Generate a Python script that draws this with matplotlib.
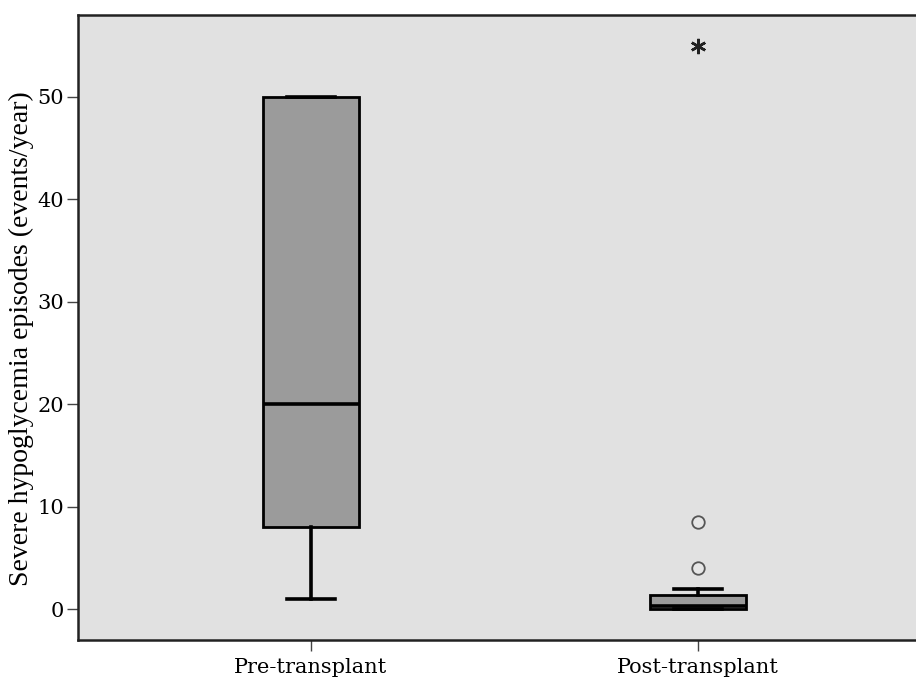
import numpy as np
import matplotlib

matplotlib.use("Agg")

import matplotlib.pyplot as plt  # noqa: E402

# box statistics (events/year)
groups = ["Pre-transplant", "Post-transplant"]
whislo = [1.0, 0.0]
q1 = [8.0, 0.0]
med = [20.0, 0.3]
q3 = [50.0, 1.4]
whishi = [50.0, 2.0]
outliers = [[], [4.0, 8.5]]
extremes = [[], [55.0]]

yticks = [0, 10, 20, 30, 40, 50]

plt.rcParams["font.family"] = ["DejaVu Serif"]

fig = plt.figure(figsize=(9.16, 6.81), dpi=100)
ax = fig.add_axes([78 / 916, 41 / 681, (931 - 78) / 916, 625 / 681])

stats = []
for i, name in enumerate(groups):
    stats.append(dict(label=name, whislo=whislo[i], q1=q1[i], med=med[i],
                      q3=q3[i], whishi=whishi[i], fliers=outliers[i]))

pos = np.arange(1, len(groups) + 1)
ax.bxp(stats, positions=pos, widths=0.25, patch_artist=True,
       boxprops=dict(facecolor="#9b9b9b", edgecolor="black", linewidth=2),
       medianprops=dict(color="black", linewidth=2.6),
       whiskerprops=dict(color="black", linewidth=2.6),
       capprops=dict(color="black", linewidth=2.6),
       capwidths=0.125,
       flierprops=dict(marker="o", markersize=9, markerfacecolor="#e6e6e6",
                       markeredgecolor="#555555", markeredgewidth=1.3))

# extreme values (SPSS asterisk)
for i, ex in enumerate(extremes):
    if ex:
        ax.plot([pos[i]] * len(ex), ex, linestyle="none", marker=(6, 2, 0),
                markersize=11, color="#222222", markeredgewidth=1.8)

ax.set_facecolor("#e1e1e1")
ax.set_xlim(0.398, 2.602)
ax.set_ylim(-3.0, 58.0)
ax.set_yticks(yticks)
ax.set_xticks(pos)
ax.set_xticklabels(groups, fontsize=15)
ax.set_yticklabels([str(t) for t in yticks], fontsize=15)
ax.tick_params(axis="both", direction="out", length=8, width=1, color="#444444")
ax.tick_params(axis="x", pad=5)
ax.tick_params(axis="y", pad=2)
for s in ax.spines.values():
    s.set_linewidth(1.8)
    s.set_color("#222222")

ax.set_ylabel("Severe hypoglycemia episodes (events/year)", fontsize=20,
              family=["Liberation Serif"], labelpad=0)
ax.yaxis.set_label_coords(-0.052, 0.483)

fig.savefig("out.png", dpi=100, facecolor="white")
